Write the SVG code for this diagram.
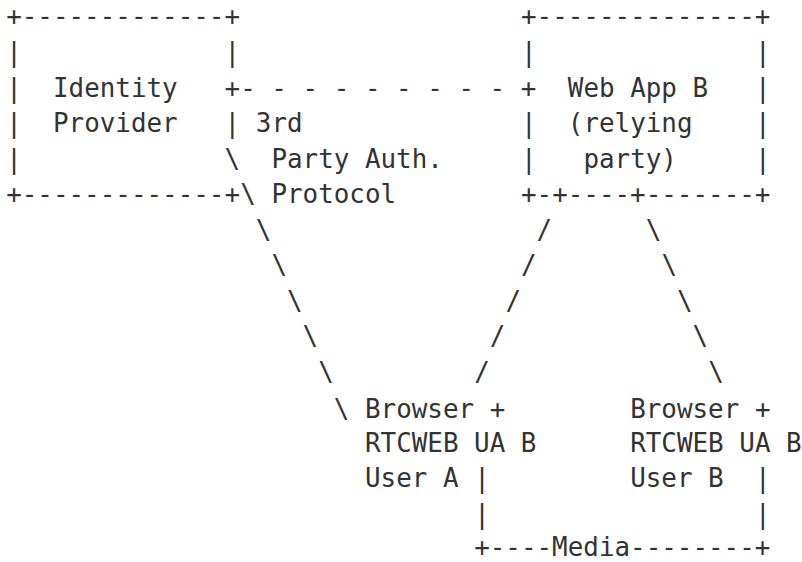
<svg xmlns="http://www.w3.org/2000/svg" width="802" height="562" viewBox="0 0 802 562">
<style>
text{font-family:"DejaVu Sans Mono","Liberation Mono",monospace;font-size:25.9px;fill:#333;white-space:pre}
</style>
<rect width="802" height="562" fill="#fff"/>
<g id="identity-provider">
<text x="6.2" y="25">+-------------+</text>
<text x="6.2" y="61.2">|</text><text x="224.6" y="61.2">|</text>
<text x="6.2" y="96.7">|</text><text x="53" y="96.7">Identity</text>
<text x="6.2" y="132.2">|</text><text x="53" y="132.2">Provider</text><text x="224.6" y="132.2">|</text>
<text x="6.2" y="167.7">|</text>
<text x="6.2" y="203.2">+-------------+</text>
</g>
<g id="web-app-b">
<text x="521" y="25">+--------------+</text>
<text x="521" y="61.2">|</text><text x="755" y="61.2">|</text>
<text x="567.8" y="96.7">Web App B</text><text x="755" y="96.7">|</text>
<text x="521" y="132.2">|</text><text x="567.8" y="132.2">(relying</text><text x="755" y="132.2">|</text>
<text x="521" y="167.7">|</text><text x="583.4" y="167.7">party)</text><text x="755" y="167.7">|</text>
<text x="521" y="203.2">+-+----+-------+</text>
</g>
<g id="browser-a">
<text x="365" y="418">Browser +</text>
<text x="365" y="452">RTCWEB UA B</text>
<text x="365" y="487">User A</text>
</g>
<g id="browser-b">
<text x="630.2" y="418">Browser +</text>
<text x="630.2" y="452">RTCWEB UA B</text>
<text x="630.2" y="487">User B</text>
</g>
<g id="connectors">
<text x="224.6" y="96.7" xml:space="preserve">+- - - - - - - - - +</text>
<text x="255.8" y="132.2">3rd</text>
<text x="271.4" y="167.7">Party Auth.</text>
<text x="271.4" y="203.2">Protocol</text>
<text x="224.6" y="167.7">\</text>
<text x="240.2" y="203.2">\</text>
<text x="255.8" y="238.7">\</text>
<text x="271.4" y="274.2">\</text>
<text x="287" y="309.7">\</text>
<text x="302.6" y="345.2">\</text>
<text x="318.2" y="380.7">\</text>
<text x="333.8" y="418">\</text>
<text x="536.6" y="238.7">/</text>
<text x="521" y="274.2">/</text>
<text x="505.4" y="309.7">/</text>
<text x="489.8" y="345.2">/</text>
<text x="474.2" y="380.7">/</text>
<text x="645.8" y="238.7">\</text>
<text x="661.4" y="274.2">\</text>
<text x="677" y="309.7">\</text>
<text x="692.6" y="345.2">\</text>
<text x="708.2" y="380.7">\</text>
<text x="474.2" y="487">|</text><text x="755" y="487">|</text>
<text x="474.2" y="522.7">|</text><text x="755" y="522.7">|</text>
<text x="474.2" y="555.5">+----Media--------+</text>
</g>
</svg>
